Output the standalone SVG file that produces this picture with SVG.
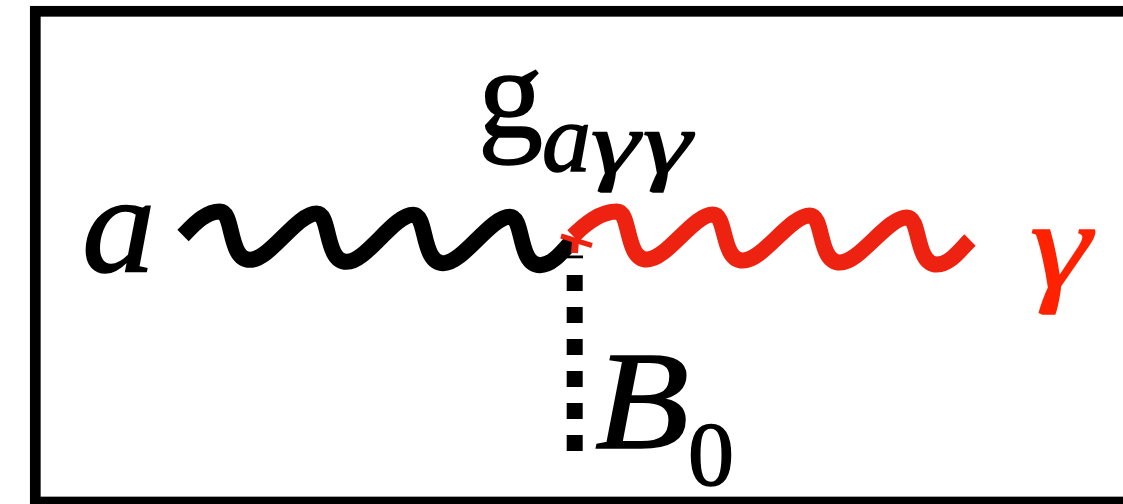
<svg xmlns="http://www.w3.org/2000/svg" width="1123" height="504" viewBox="0 0 1123 504">
<style>
.frame{fill:none;stroke:#000;stroke-width:10.7}
.wave{fill:none;stroke-width:16;stroke-linecap:butt;stroke-linejoin:round}
.blk{stroke:#000}
.red{stroke:#ee2211}
.t{font-family:'Liberation Serif','Times New Roman',serif;fill:#000;stroke:#000;stroke-width:1.5}
.i{font-style:italic}
</style>
<rect class="frame" x="35.3" y="11.3" width="1110" height="490.7"/>
<g id="connectors">
  <rect x="567" y="255.5" width="16" height="2.8" fill="#000"/>
  <line x1="574.7" y1="275" x2="574.7" y2="451" stroke="#000" stroke-width="16" stroke-dasharray="16 16"/>
  <path class="wave blk" d="M183,235.5 C193,225.5 205,211.5 220,211.5 C234,211.5 228,259.8 250,259.8 C270,259.8 296.7,213.5 316.7,213.5 C330.7,213.5 324.7,261.8 346.7,261.8 C366.7,261.8 393.3,214.8 413.3,214.8 C427.3,214.8 421.3,263.2 443.3,263.2 C463.3,263.2 490,216.8 510,216.8 C524,216.8 518,265.2 540,265.2 C552,265.2 562,252 572,241"/>
  <path class="wave red" d="M573,236 C585,224 600,211.5 617,211.5 C631,211.5 625,259.5 647,259.5 C667,259.5 693,214.5 713,214.5 C727,214.5 721,260.5 743,260.5 C763,260.5 790,215.5 810,215.5 C824,215.5 818,262.5 840,262.5 C860,262.5 887,217.5 907,217.5 C921,217.5 915,264.5 937,264.5 C950,264.5 960,250 970,240"/>
  <line x1="561" y1="236" x2="592" y2="245.5" stroke="#ee2211" stroke-width="5"/>
  <line x1="575.5" y1="240" x2="574.5" y2="253" stroke="#ee2211" stroke-width="7"/>
</g>
<g id="node-a">
  <text class="t i" transform="translate(82,272) scale(1.05,1)" font-size="140">a</text>
</g>
<g id="node-coupling">
  <text class="t" x="478" y="137" font-size="130">g</text>
  <text class="t i" x="542" y="171" font-size="98">a</text>
  <text class="t i" transform="translate(591,173) scale(1.4,1)" font-size="88">γ</text>
  <text class="t i" transform="translate(643,173) scale(1.4,1)" font-size="88">γ</text>
</g>
<g id="node-gamma">
  <text class="t i" transform="translate(1030,287) scale(1.25,1)" font-size="124" style="fill:#ff2200;stroke:#ff2200">γ</text>
</g>
<g id="node-B0">
  <text class="t i" transform="translate(595,448) scale(1.1,1)" font-size="140">B</text>
  <text class="t" x="688" y="485" font-size="92">0</text>
</g>
</svg>
